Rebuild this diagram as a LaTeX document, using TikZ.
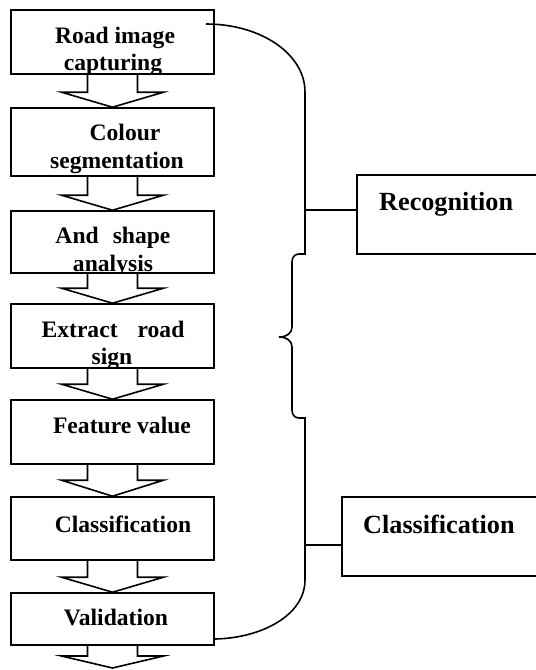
\documentclass[tikz,border=0pt]{standalone}
\usepackage{fontspec}
\setmainfont{Liberation Serif}
\usetikzlibrary{calc}

% block arrow hanging under a stage box: from node #1 down to point #2, head height #3
\newcommand\flowarrow[3]{%
  \draw[link] let \p1=(#1.south), \p2=(#2) in
    (\x1-25pt,\y1) -- (\x1-25pt,\y2+#3) -- (\x1-51pt,\y2+#3) -- (\x1,\y2)
    -- (\x1+51pt,\y2+#3) -- (\x1+25pt,\y2+#3) -- (\x1+25pt,\y1);}

\begin{document}
\begin{tikzpicture}[x=1pt,y=-1pt,
  stage/.style={draw, rectangle, line width=1.6pt, minimum width=203pt, inner sep=0pt},
  group/.style={draw, rectangle, line width=1.6pt, inner sep=0pt},
  lbl/.style={anchor=base, inner sep=0pt, font=\fontsize{23.6}{27}\selectfont\bfseries},
  rlbl/.style={anchor=base west, inner sep=0pt, font=\fontsize{26.2}{30}\selectfont\bfseries},
  link/.style={line width=1.6pt},
  line join=miter]
\useasboundingbox (0,0) rectangle (536,670);
\clip (0,0) rectangle (536,670);

% pipeline stages
\node[stage, minimum height=64pt] (b1) at (112.5,42)    {};
\node[stage, minimum height=68pt] (b2) at (112.5,142)   {};
\node[stage, minimum height=62pt] (b3) at (112.5,242)   {};
\node[stage, minimum height=64pt] (b4) at (112.5,336)   {};
\node[stage, minimum height=64pt] (b5) at (112.5,432)   {};
\node[stage, minimum height=63pt] (b6) at (112.5,528.5) {};
\node[stage, minimum height=52pt] (b7) at (112.5,619)   {};

% stage captions (second lines are cut by the box edge)
\begin{scope}
  \clip (b1.north west) rectangle (b1.south east);
  \node[lbl] (t1a) at (115,43) {Road image};
  \node[lbl] (t1b) at (113,70) {capturing};
\end{scope}
\node[lbl] (t2a) at (125,140) {Colour};
\node[lbl] (t2b) at (117,168) {segmentation};
\begin{scope}
  \clip (b3.north west) rectangle (b3.south east);
  \node[lbl] (t3a) at (113,243) {And\hspace{14pt}shape};
  \node[lbl] (t3b) at (113,271) {analysis};
\end{scope}
\begin{scope}
  \clip (b4.north west) rectangle (b4.south east);
  \node[lbl] (t4a) at (113,337) {Extract\hspace{20pt}road};
  \node[lbl] (t4b) at (112,364) {sign};
\end{scope}
\node[lbl] (t5) at (122,433) {Feature value};
\node[lbl] (t6) at (123,532) {Classification};
\node[lbl] (t7) at (116,625) {Validation};

% block arrows between stages
\coordinate (tail) at (112.5,668);
\flowarrow{b1}{b2.north}{15pt}
\flowarrow{b2}{b3.north}{15pt}
\flowarrow{b3}{b4.north}{15pt}
\flowarrow{b4}{b5.north}{15pt}
\flowarrow{b5}{b6.north}{16pt}
\flowarrow{b6}{b7.north}{15pt}
\flowarrow{b7}{tail}{12pt}

% group boxes on the right
\node[group, minimum width=188pt, minimum height=79pt] (rec) at (451,214.5) {};
\node[group, minimum width=203pt, minimum height=79pt] (cls) at (443.5,536.5) {};
\node[rlbl] (trec) at (379,210) {Recognition};
\node[rlbl] (tcls) at (363,533) {Classification};

% bracket spanning the stages, with a brace notch in the middle
\coordinate (capStart) at (206,24);
\coordinate (capEnd) at (215,639);
\draw[link] (capStart) .. controls (261,24) and (305,54) .. (305,92)
  -- (305,254) -- (299,254) .. controls (295,254) and (292,257) .. (292,262)
  -- (292,327) .. controls (292,333) and (287,337) .. (279,337)
  .. controls (287,337) and (292,341) .. (292,347)
  -- (292,410) .. controls (292,415) and (295,418) .. (299,418)
  -- (305,418) -- (305,580) .. controls (305,615) and (262,638) .. (capEnd);

% ties from the bracket to the group boxes
\coordinate (recJoin) at (305,210);
\coordinate (clsJoin) at (305,545);
\draw[link] (recJoin) -- (recJoin -| rec.west);
\draw[link] (clsJoin) -- (clsJoin -| cls.west);
\end{tikzpicture}
\end{document}
